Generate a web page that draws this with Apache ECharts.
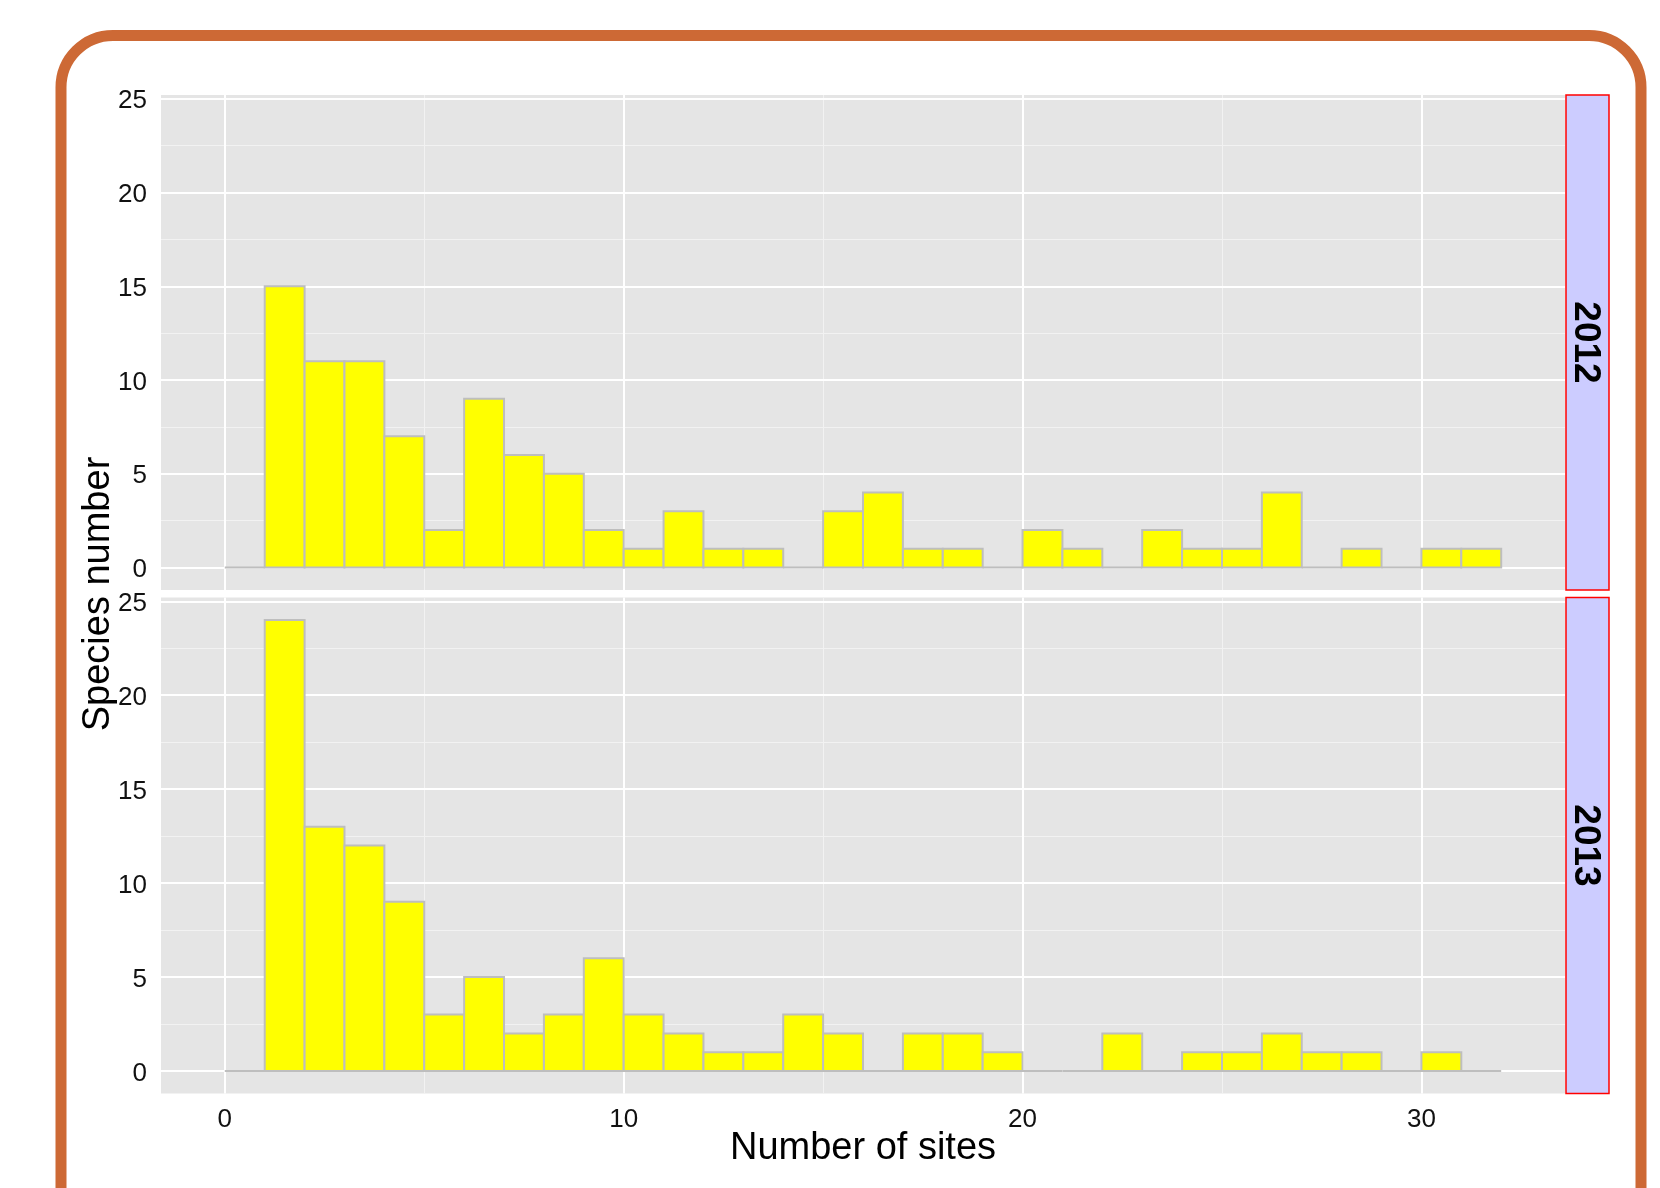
<!DOCTYPE html>
<html>
<head>
<meta charset="utf-8">
<script src="https://cdn.jsdelivr.net/npm/echarts@6/dist/echarts.min.js"></script>
<style>
html,body{margin:0;padding:0;background:#fff;}
#chart{width:1660px;height:1188px;}
</style>
</head>
<body>
<div id="chart"></div>
<script>
// ---- data ----
const binEdges = [0,1,2,3,4,5,6,7,8,9,10,11,12,13,14,15,16,17,18,19,20,21,22,23,24,25,26,27,28,29,30,31,32];
const counts2012 = [0,15,11,11,7,2,9,6,5,2,1,3,1,1,0,3,4,1,1,0,2,1,0,2,1,1,4,0,1,0,1,1];
const counts2013 = [0,24,13,12,9,3,5,2,3,6,3,2,1,1,3,2,0,2,2,1,0,0,2,0,1,1,2,1,1,0,1,0];
const facetLabels = ['2012', '2013'];
const xTicks = [0, 10, 20, 30];
const xMinor = [5, 15, 25];
const yTicks = [0, 5, 10, 15, 20, 25];
const yMinor = [2.5, 7.5, 12.5, 17.5, 22.5];
const xTitle = 'Number of sites';
const yTitle = 'Species number';

// ---- layout ----
const FONT = '"Liberation Sans", Arial, sans-serif';
const panelLeft = 161, panelW = 1404;
const panels = [{top: 95, h: 495}, {top: 597.5, h: 496}];
const xRange = [-1.6, 33.6];
const yRange = [-1.2, 25.2];

function binData(counts) {
  return counts.map((c, i) => [binEdges[i], binEdges[i + 1], c]);
}

const grids = panels.map(p => ({
  left: panelLeft, top: p.top, width: panelW, height: p.h,
  show: true, backgroundColor: '#E5E5E5', borderWidth: 0, containLabel: false
}));

const xAxes = panels.map((p, i) => ({
  type: 'value', gridIndex: i, min: xRange[0], max: xRange[1],
  axisLine: {show: false},
  splitLine: {show: false},
  axisTick: {show: i === 1, customValues: xTicks, length: 7, lineStyle: {color: '#7F7F7F', width: 2}},
  axisLabel: {show: i === 1, customValues: xTicks, margin: 13, fontSize: 26, color: '#111', fontFamily: FONT}
}));

const yAxes = panels.map((p, i) => ({
  type: 'value', gridIndex: i, min: yRange[0], max: yRange[1],
  axisLine: {show: false},
  splitLine: {show: false},
  axisTick: {show: true, customValues: yTicks, length: 7, lineStyle: {color: '#7F7F7F', width: 2}},
  axisLabel: {
    show: true, customValues: yTicks, margin: 14, color: '#111',
    formatter: '{t|{value}}',
    rich: {t: {fontSize: 26, fontFamily: FONT, color: '#111', padding: [5, 0, 0, 0]}}
  }
}));

const series = [];
[counts2012, counts2013].forEach((counts, i) => {
  // minor grid
  series.push({
    type: 'scatter', xAxisIndex: i, yAxisIndex: i, data: [], z: 1, silent: true,
    markLine: {
      silent: true, symbol: ['none', 'none'], label: {show: false}, animation: false, z: 1,
      lineStyle: {color: '#F2F2F2', width: 1, type: 'solid'},
      emphasis: {disabled: true},
      data: xMinor.map(v => ({xAxis: v})).concat(yMinor.map(v => ({yAxis: v})))
    }
  });
  // major grid
  series.push({
    type: 'scatter', xAxisIndex: i, yAxisIndex: i, data: [], z: 2, silent: true,
    markLine: {
      silent: true, symbol: ['none', 'none'], label: {show: false}, animation: false, z: 2,
      lineStyle: {color: '#FFFFFF', width: 2, type: 'solid'},
      emphasis: {disabled: true},
      data: xTicks.map(v => ({xAxis: v})).concat(yTicks.map(v => ({yAxis: v})))
    }
  });
  // histogram bars
  series.push({
    type: 'custom', xAxisIndex: i, yAxisIndex: i, z: 10, silent: true,
    data: binData(counts),
    encode: {x: [0, 1], y: 2},
    renderItem: function (params, api) {
      const p0 = api.coord([api.value(0), api.value(2)]);
      const p1 = api.coord([api.value(1), 0]);
      return {
        type: 'rect',
        shape: {x: p0[0], y: p0[1], width: p1[0] - p0[0], height: p1[1] - p0[1]},
        style: {fill: '#FFFF00', stroke: '#BEBEBE', lineWidth: 2}
      };
    }
  });
});

const graphics = [
  {type: 'rect', z: 100, silent: true,
   shape: {x: 61, y: 35.5, width: 1580, height: 1300, r: 52},
   style: {fill: 'none', stroke: '#CD6935', lineWidth: 11}},
  {type: 'text', z: 50, silent: true, x: 863, y: 1149,
   style: {text: xTitle, font: '38px ' + FONT, fill: '#000', align: 'center', verticalAlign: 'middle'}},
  {type: 'text', z: 50, silent: true, x: 99, y: 594, rotation: Math.PI / 2,
   style: {text: yTitle, font: '38px ' + FONT, fill: '#000', align: 'center', verticalAlign: 'middle'}}
];
panels.forEach((p, i) => {
  graphics.push({type: 'rect', z: 40, silent: true,
    shape: {x: 1566, y: p.top, width: 43, height: p.h},
    style: {fill: '#CCCCFF', stroke: '#FF0000', lineWidth: 1.5}});
  graphics.push({type: 'text', z: 41, silent: true, x: 1585, y: p.top + p.h / 2, rotation: -Math.PI / 2,
    style: {text: facetLabels[i], font: 'bold 37px ' + FONT, fill: '#000', align: 'center', verticalAlign: 'middle'}});
});

const chart = echarts.init(document.getElementById('chart'), null, {renderer: 'canvas'});
chart.setOption({
  backgroundColor: '#FFFFFF',
  animation: false,
  grid: grids,
  xAxis: xAxes,
  yAxis: yAxes,
  series: series,
  graphic: graphics
});
</script>
</body>
</html>
